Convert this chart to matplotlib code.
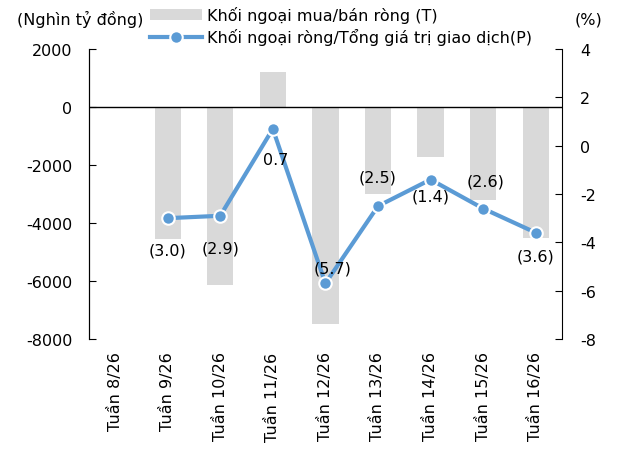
import matplotlib
matplotlib.use('Agg')
import matplotlib.pyplot as plt
import numpy as np

# Dữ liệu
weeks = ['Tuần 8/26', 'Tuần 9/26', 'Tuần 10/26', 'Tuần 11/26', 'Tuần 12/26',
         'Tuần 13/26', 'Tuần 14/26', 'Tuần 15/26', 'Tuần 16/26']
net_flow = [0, -4550, -6150, 1200, -7500, -3000, -1720, -3200, -4530]
net_ratio = [np.nan, -3.0, -2.9, 0.7, -5.7, -2.5, -1.4, -2.6, -3.6]

# Vị trí nhãn dữ liệu (offset tính bằng point)
label_offsets = [None, (0, -23), (0, -23), (2, -22), (5, 11), (0, 21), (0, -12), (2, 19.5), (0, -16.5)]

bar_color = '#D9D9D9'
line_color = '#5B9BD5'

plt.rcParams['font.family'] = ['DejaVu Sans']
plt.rcParams['font.size'] = 11.5
plt.rcParams['axes.unicode_minus'] = False

fig = plt.figure(figsize=(6.21, 4.52), dpi=100)
ax = fig.add_axes([0.143, 0.248, 0.762, 0.641])
ax2 = ax.twinx()

x = np.arange(len(weeks))
bars = ax.bar(x, net_flow, width=0.5, color=bar_color, zorder=1)
ax.axhline(0, color='black', lw=1, zorder=2)

ln, = ax2.plot(x, net_ratio, color=line_color, lw=3, marker='o', markersize=9,
               markerfacecolor=line_color, markeredgecolor='white', markeredgewidth=1.5,
               zorder=3)

for xi, v, off in zip(x, net_ratio, label_offsets):
    if off is None:
        continue
    txt = f'({abs(v):.1f})' if v < 0 else f'{v:.1f}'
    ax2.annotate(txt, (xi, v), xytext=off, textcoords='offset points',
                 ha='center', va='center')

ax.set_xlim(-0.5, len(weeks) - 0.5)
ax.set_ylim(-8000, 2000)
ax.set_yticks(range(-8000, 2001, 2000))
ax2.set_ylim(-8, 4)
ax2.set_yticks(range(-8, 5, 2))

ax.set_xticks(x)
ax.set_xticklabels(weeks, rotation=90)
ax.tick_params(axis='x', length=0, pad=9)
ax.tick_params(axis='y', direction='in', length=5, pad=12)
ax2.tick_params(axis='y', direction='in', length=5, pad=13)

for a in (ax, ax2):
    a.spines['top'].set_visible(False)
    a.spines['bottom'].set_visible(False)
ax.spines['right'].set_visible(False)

fig.text(0.027, 0.956, '(Nghìn tỷ đồng)', ha='left', va='center')
fig.text(0.947, 0.956, '(%)', ha='center', va='center')

fig.legend([bars, ln], ['Khối ngoại mua/bán ròng (T)', 'Khối ngoại ròng/Tổng giá trị giao dịch(P)'],
           loc='upper left', bbox_to_anchor=(0.232, 0.999), frameon=False, numpoints=1,
           handlelength=3.2, handletextpad=0.37, labelspacing=0.33, borderaxespad=0)

fig.savefig('out.png', dpi=100)
